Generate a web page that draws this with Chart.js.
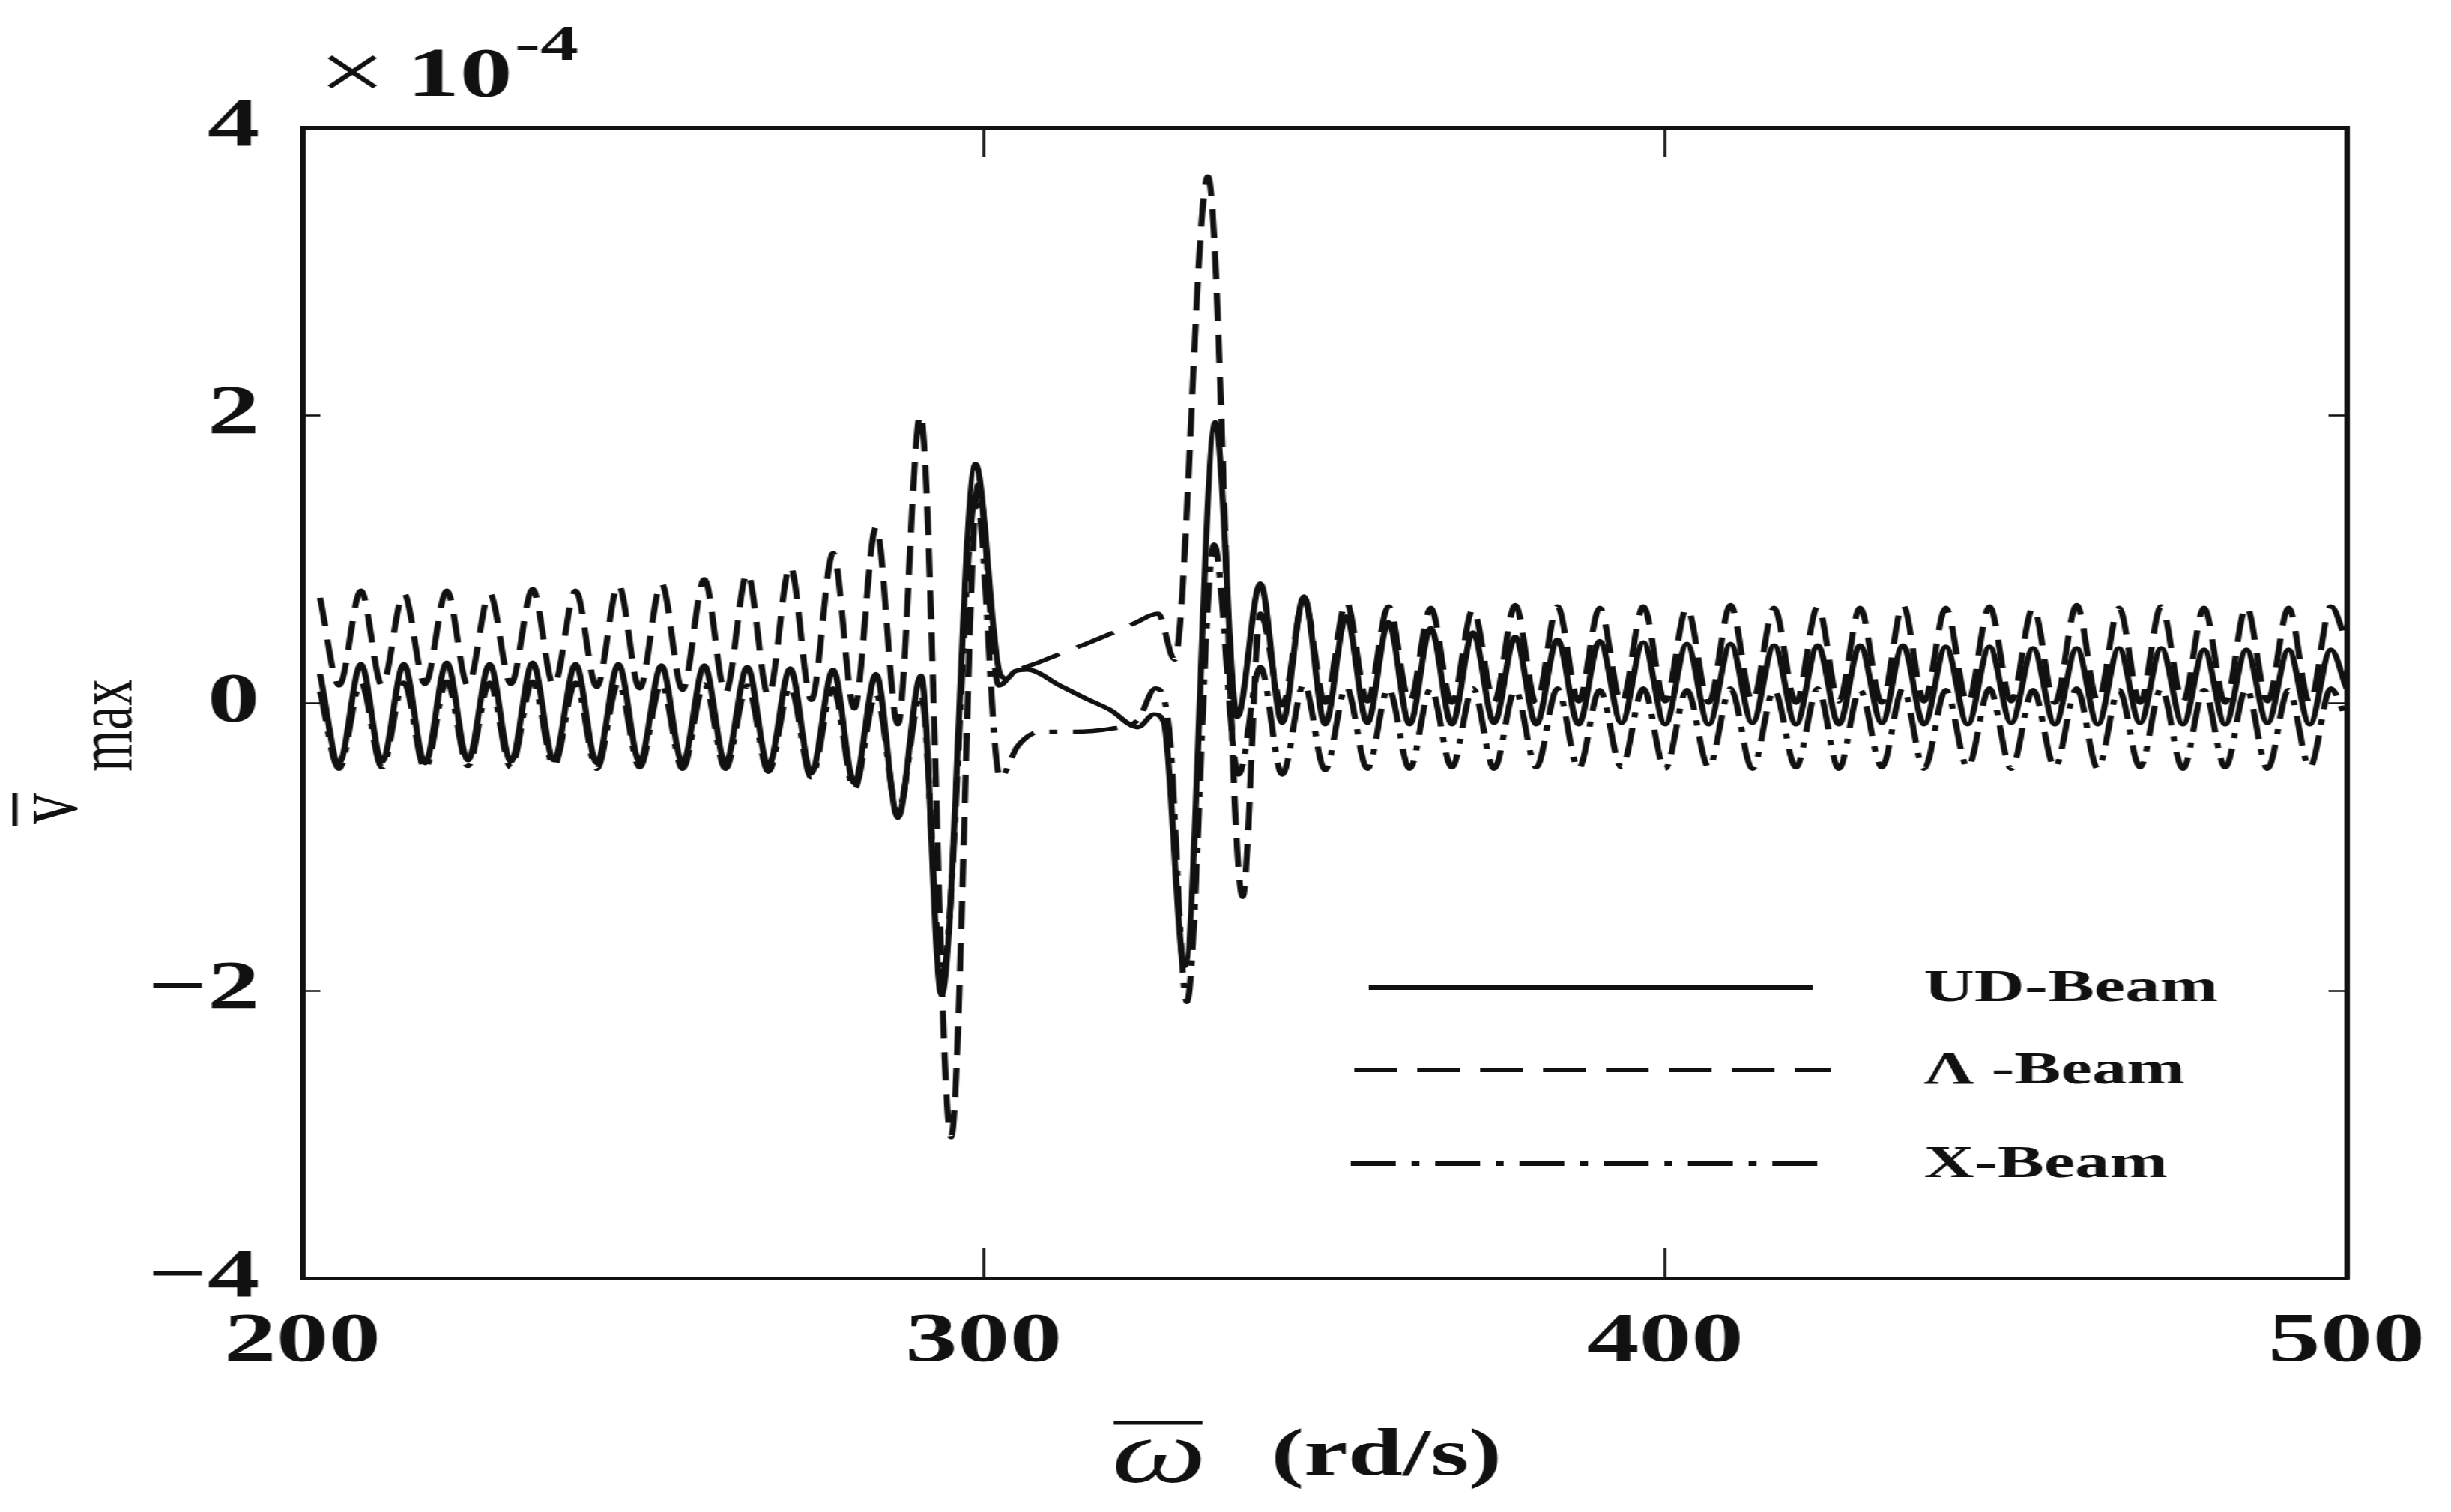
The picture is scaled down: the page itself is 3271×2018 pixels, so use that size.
<!DOCTYPE html>
<html>
<head>
<meta charset="utf-8">
<title>v max vs omega</title>
<script src="https://cdn.jsdelivr.net/npm/chart.js@4.4.1/dist/chart.umd.min.js"></script>
<style>
  html, body { margin: 0; padding: 0; background: #fff; overflow: hidden; }
  /* the source figure is stretched sideways, so the whole chart is drawn narrow and widened */
  #stage { width: 2181px; height: 2018px; transform: scaleX(1.49977); transform-origin: 0 0; }
</style>
</head>
<body>
<div id="stage"><canvas id="chart"></canvas></div>
<script>
// values are in units of 1e-4 (see the x10^-4 label)

// shared peak / trough positions of the regular oscillation, left of the first resonance
const leftX = [202.6, 205.4, 208.6, 211.7, 214.9, 218.0, 221.2, 224.3, 227.5, 230.6,
  233.8, 236.9, 240.1, 243.2, 246.4, 249.5, 252.7, 255.8, 259.0, 262.1,
  265.3, 268.4, 271.6, 274.7, 277.9, 281.0, 284.2, 287.4];

// and right of the second one
const rightX = [340.6, 343.8, 347.0, 350.1, 353.2, 356.3, 359.4, 362.5, 365.6, 368.7,
  371.8, 374.9, 378.0, 381.1, 384.2, 387.3, 390.4, 393.6, 396.8, 400.0,
  403.2, 406.4, 409.6, 412.8, 416.0, 419.2, 422.4, 425.5, 428.6, 431.8,
  434.9, 438.0, 441.2, 444.4, 447.6, 450.8, 454.0, 457.2, 460.4, 463.5,
  466.6, 469.7, 472.8, 476.0, 479.1, 482.2, 485.3, 488.4, 491.5, 494.6,
  497.7, 500.0];

// UD-Beam
const udLeft = [0.20, -0.42, 0.27, -0.41, 0.27, -0.42, 0.28, -0.40, 0.27, -0.41,
  0.28, -0.40, 0.27, -0.42, 0.27, -0.41, 0.26, -0.42, 0.26, -0.42,
  0.25, -0.44, 0.24, -0.49, 0.23, -0.56, 0.20, -0.80];
const udMidX = [290.8, 293.8, 298.8, 302.4, 303.4, 304.6, 306.4, 311.2, 315.0, 318.6, 322.6, 325.0, 326.4, 329.5, 334.0, 337.2];
const udMidY = [0.19, -2.03, 1.66, 0.20, 0.17, 0.22, 0.23, 0.12, 0.03, -0.05, -0.17, -0.08, -0.13, -1.83, 1.95, -0.10];
const udRight = [0.83, -0.14, 0.74, -0.15, 0.60, -0.14, 0.56, -0.15, 0.52, -0.15,
  0.49, -0.14, 0.46, -0.15, 0.44, -0.15, 0.43, -0.14, 0.42, -0.15,
  0.41, -0.15, 0.41, -0.14, 0.40, -0.15, 0.40, -0.15, 0.40, -0.14,
  0.40, -0.15, 0.39, -0.15, 0.39, -0.14, 0.38, -0.15, 0.38, -0.15,
  0.38, -0.14, 0.38, -0.15, 0.37, -0.15, 0.37, -0.14, 0.37, -0.15,
  0.37, 0.10];

// Λ-Beam
const aLeft = [0.73, 0.12, 0.78, 0.12, 0.76, 0.13, 0.78, 0.12, 0.76, 0.13,
  0.79, 0.12, 0.78, 0.11, 0.82, 0.10, 0.83, 0.09, 0.86, 0.07,
  0.90, 0.05, 0.95, 0.02, 1.04, -0.04, 1.22, -0.15];
const aMidX = [290.7, 295.2, 299.2, 302.2, 304.4, 308.0, 311.2, 315.0, 318.6, 322.0, 325.6, 328.0, 332.9, 338.0];
const aMidY = [2.00, -3.02, 1.52, 0.12, 0.21, 0.28, 0.34, 0.41, 0.48, 0.55, 0.62, 0.30, 3.66, -1.35];
const aRight = [0.62, -0.02, 0.72, 0.00, 0.70, 0.01, 0.67, 0.01, 0.66, 0.00,
  0.65, 0.01, 0.68, 0.00, 0.67, 0.01, 0.66, 0.00, 0.67, 0.01,
  0.66, 0.00, 0.68, 0.01, 0.66, 0.00, 0.67, 0.01, 0.66, 0.00,
  0.68, 0.01, 0.66, 0.00, 0.67, 0.01, 0.66, 0.00, 0.68, 0.01,
  0.66, 0.00, 0.67, 0.01, 0.66, 0.00, 0.67, 0.01, 0.66, 0.00,
  0.67, 0.42];

// X-Beam
const xLeft = [0.08, -0.46, 0.14, -0.45, 0.14, -0.46, 0.15, -0.44, 0.14, -0.45,
  0.15, -0.44, 0.14, -0.46, 0.14, -0.45, 0.13, -0.46, 0.13, -0.46,
  0.12, -0.48, 0.11, -0.52, 0.10, -0.60, 0.06, -0.76];
const xMidX = [290.8, 293.9, 298.9, 302.4, 305.0, 308.4, 313.0, 318.6, 322.6, 325.2, 327.2, 329.8, 333.8, 337.4];
const xMidY = [0.06, -1.90, 1.45, -0.52, -0.30, -0.20, -0.20, -0.18, -0.12, 0.10, -0.18, -2.08, 1.10, -0.50];
const xRight = [0.25, -0.50, 0.13, -0.47, 0.11, -0.46, 0.10, -0.46, 0.10, -0.45,
  0.10, -0.46, 0.09, -0.45, 0.10, -0.46, 0.09, -0.45, 0.10, -0.46,
  0.09, -0.45, 0.10, -0.46, 0.09, -0.45, 0.10, -0.46, 0.09, -0.45,
  0.10, -0.46, 0.09, -0.45, 0.10, -0.46, 0.09, -0.45, 0.10, -0.46,
  0.09, -0.45, 0.10, -0.46, 0.09, -0.45, 0.10, -0.46, 0.09, -0.45,
  0.10, -0.12];

const seriesNames = ['UD-Beam', 'Λ -Beam', 'X-Beam'];
const xTicks = [200, 300, 400, 500];
const yTicks = [-4, -2, 0, 2, 4];

const INK = '#111';
const SERIF = '"Liberation Serif", "Times New Roman", serif';

function pts(xs, ys) {
  return xs.map((x, i) => ({ x: x, y: ys[i] }));
}

function lineSet(label, xs, ys, dash) {
  return {
    label: label,
    data: pts(xs, ys),
    borderColor: INK,
    borderWidth: 5.5,
    borderDash: dash,
    pointRadius: 0,
    cubicInterpolationMode: 'monotone',
    fill: false
  };
}

// axis helper: inward ticks, no grid
function axis(pos, min, max, step, tickLen, showLabels, size, pad) {
  return {
    type: 'linear',
    position: pos,
    min: min,
    max: max,
    afterBuildTicks: s => {
      const list = (s.axis === 'x') ? xTicks : yTicks;
      s.ticks = list.map(v => ({ value: v }));
    },
    ticks: {
      display: showLabels,
      stepSize: step,
      color: INK,
      padding: pad,
      font: { family: SERIF, weight: 'bold', size: 93 },
      callback: v => (v < 0 ? '\u2212' + Math.abs(v) : String(v))
    },
    grid: {
      drawOnChartArea: false,
      drawTicks: true,
      tickLength: tickLen,
      tickWidth: 2.5,
      tickColor: INK
    },
    border: { display: true, color: INK, width: 5 },
    afterFit: s => {
      // fixed box sizes so the plot frame sits where the original one does
      if (s.isHorizontal()) s.height = size; else s.width = size;
      s.paddingLeft = 0; s.paddingRight = 0;
      s.paddingTop = 0; s.paddingBottom = 0;
    }
  };
}

// titles, the x10^-4 factor and the legend are drawn by hand
const decorations = {
  id: 'decorations',
  afterDraw(chart) {
    const ctx = chart.ctx;
    ctx.save();
    ctx.fillStyle = INK;
    ctx.strokeStyle = INK;
    ctx.textAlign = 'left';
    ctx.textBaseline = 'alphabetic';

    // x10^-4
    ctx.font = '108px ' + SERIF;
    ctx.fillText('\u00d7', 283, 132);
    ctx.font = 'bold 94px ' + SERIF;
    ctx.fillText('10', 362, 128);
    ctx.font = 'bold 68px ' + SERIF;
    ctx.fillText('-4', 458, 80);

    // x title: omega bar (rd/s)
    ctx.font = 'italic 120px ' + SERIF;
    ctx.fillText('\u03c9', 989, 1978);
    ctx.fillRect(991, 1897, 79, 4.5);
    ctx.font = 'bold 88px ' + SERIF;
    ctx.fillText('(rd/s)', 1131, 1968);

    // y title: v bar with subscript max, rotated
    ctx.save();
    ctx.font = '82px ' + SERIF;
    ctx.translate(68, 1100);
    ctx.rotate(-Math.PI / 2);
    ctx.fillText('v', 0, 0);
    ctx.restore();
    ctx.fillRect(11, 1058, 4.5, 44);
    ctx.save();
    ctx.font = '72px ' + SERIF;
    ctx.translate(117, 1030);
    ctx.rotate(-Math.PI / 2);
    ctx.fillText('max', 0, 0);
    ctx.restore();

    // legend
    const rows = [
      { x0: 1218, x1: 1613, y: 1318 },
      { x0: 1205, x1: 1629, y: 1428 },
      { x0: 1202, x1: 1625, y: 1553 }
    ];
    ctx.font = 'bold 62px ' + SERIF;
    ctx.textBaseline = 'middle';
    chart.data.datasets.forEach((ds, i) => {
      const r = rows[i];
      ctx.save();
      ctx.lineWidth = 6;
      ctx.setLineDash(ds.borderDash || []);
      ctx.beginPath();
      ctx.moveTo(r.x0, r.y);
      ctx.lineTo(r.x1, r.y);
      ctx.stroke();
      ctx.restore();
      ctx.fillText(ds.label, 1712, r.y + 2);
    });
    ctx.restore();
  }
};

new Chart(document.getElementById('chart'), {
  type: 'line',
  data: {
    datasets: [
      lineSet(seriesNames[0], [...leftX, ...udMidX, ...rightX], [...udLeft, ...udMidY, ...udRight], []),
      lineSet(seriesNames[1], [...leftX, ...aMidX, ...rightX], [...aLeft, ...aMidY, ...aRight], [38, 18]),
      lineSet(seriesNames[2], [...leftX, ...xMidX, ...rightX], [...xLeft, ...xMidY, ...xRight], [40, 14, 7, 14])
    ]
  },
  options: {
    responsive: true,
    maintainAspectRatio: false,
    animation: false,
    layout: { padding: 0 },
    plugins: {
      legend: { display: false },
      title: { display: false },
      tooltip: { enabled: false }
    },
    scales: {
      x: axis('bottom', 200, 500, 100, -40, true, 312, 70),
      x2: axis('top', 200, 500, 100, -40, false, 170, 0),
      y: axis('left', -4, 4, 2, -16, true, 269, 54),
      y2: axis('right', -4, 4, 2, -16, false, 93, 0)
    }
  },
  plugins: [decorations]
});
</script>
</body>
</html>
